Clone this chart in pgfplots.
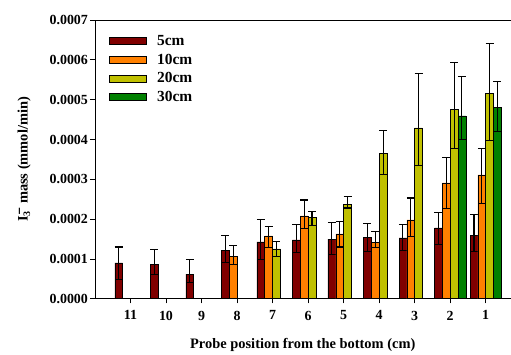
\documentclass[border=0pt]{standalone}
\usepackage{pgfplots}
\pgfplotsset{compat=1.18}
\usepackage{pgfplotstable}
\usepackage{fontspec}
\setmainfont{Liberation Serif}
\newfontfamily\dvfont{DejaVu Sans}
\definecolor{cA}{RGB}{128,0,0}
\definecolor{cB}{RGB}{255,128,0}
\definecolor{cC}{RGB}{192,192,0}
\definecolor{cD}{RGB}{0,128,0}
\newcommand{\Ithree}{I\rlap{\raisebox{-0.35ex}{\fontsize{10}{10}\selectfont 3}}\raisebox{5bp}{\dvfont\bfseries\fontsize{10}{10}\selectfont\kern0.3bp −}}
\pgfplotstableread{
x y ep em
0 0.000090 0.000040 0.000042
1 0.000087 0.000037 0.000026
2 0.000062 0.000037 0.000021
3 0.000122 0.000036 0.000030
4 0.000143 0.000055 0.000044
5 0.000148 0.000039 0.000032
6 0.000150 0.000042 0.000039
7 0.000155 0.000034 0.000037
8 0.000153 0.000033 0.000031
9 0.000178 0.000039 0.000042
10 0.000160 0.000052 0.000042
}\tA
\pgfplotstableread{
x y ep em
3 0.000107 0.000026 0.000021
4 0.000158 0.000023 0.000029
5 0.000208 0.000040 0.000031
6 0.000163 0.000030 0.000033
7 0.000141 0.000027 0.000013
8 0.000198 0.000055 0.000042
9 0.000291 0.000064 0.000065
10 0.000311 0.000067 0.000071
}\tB
\pgfplotstableread{
x y ep em
4 0.000125 0.000018 0.000019
5 0.000204 0.000014 0.000020
6 0.000236 0.000021 0.000008
7 0.000365 0.000057 0.000053
8 0.000429 0.000137 0.000094
9 0.000475 0.000119 0.000098
10 0.000516 0.000125 0.000118
}\tC
\pgfplotstableread{
x y ep em
9 0.000459 0.000099 0.000059
10 0.000480 0.000066 0.000061
}\tD
\begin{document}
\begin{tikzpicture}
\begin{axis}[
  scale only axis,
  width=416bp, height=279bp,
  xmin=-1.0, xmax=10.7,
  ymin=0, ymax=0.0007,
  axis x line*=box, axis y line*=left,
  axis line style={black, line width=0.8pt},
  xtick={0,...,10},
  xticklabels={11,10,9,8,7,6,5,4,3,2,1},
  ytick={0,0.0001,0.0002,0.0003,0.0004,0.0005,0.0006,0.0007},
  scaled y ticks=false,
  yticklabel style={xshift=1bp, /pgf/number format/.cd, fixed, fixed zerofill, precision=4},
  /pgf/number format/assume math mode=true,
  xtick pos=bottom, ytick pos=left,
  tick align=outside,
  major tick length=4.5bp,
  tick style={black, line width=0.8pt},
  ticklabel style={font=\bfseries\fontsize{14}{16}\selectfont},
  xticklabel style={yshift=-4bp},
  xlabel={Probe position from the bottom (cm)},
  ylabel={\Ithree\ mass (mmol/min)},
  xlabel style={yshift=-11bp},
  ylabel style={yshift=12bp},
  label style={font=\bfseries\fontsize{14.5}{16}\selectfont},
  ybar, bar width=0.22,
  every axis plot/.append style={draw=black, line width=0.6pt},
  error bars/y dir=both, error bars/y explicit,
  error bars/error bar style={black, line width=1.1pt},
  error bars/error mark options={black, rotate=90, mark size=4bp, line width=1.1pt},
  legend style={at={(0.03,0.957)}, anchor=north west, draw=none, fill=none,
     font=\bfseries\fontsize{15.5}{17}\selectfont, row sep=3bp, inner sep=1bp,
     /tikz/every odd column/.append style={column sep=9bp}},
  legend cell align=left,
  legend image code/.code={\draw[#1, draw=black, line width=0.6pt] (0bp,-3.5bp) rectangle (37bp,3.5bp);},
]
\addplot[fill=cA, bar shift=-0.33] table[x=x, y=y, y error plus=ep, y error minus=em]{\tA};
\addplot[fill=cB, bar shift=-0.11] table[x=x, y=y, y error plus=ep, y error minus=em]{\tB};
\addplot[fill=cC, bar shift=0.11] table[x=x, y=y, y error plus=ep, y error minus=em]{\tC};
\addplot[fill=cD, bar shift=0.33] table[x=x, y=y, y error plus=ep, y error minus=em]{\tD};
\legend{5cm,10cm,20cm,30cm}
\coordinate (O) at (rel axis cs:0,0);
\end{axis}
\path (O) ++(-95bp,-50bp) coordinate (A) ++(511bp,349bp) coordinate (B);
\path (A) rectangle (B);
\end{tikzpicture}
\end{document}
